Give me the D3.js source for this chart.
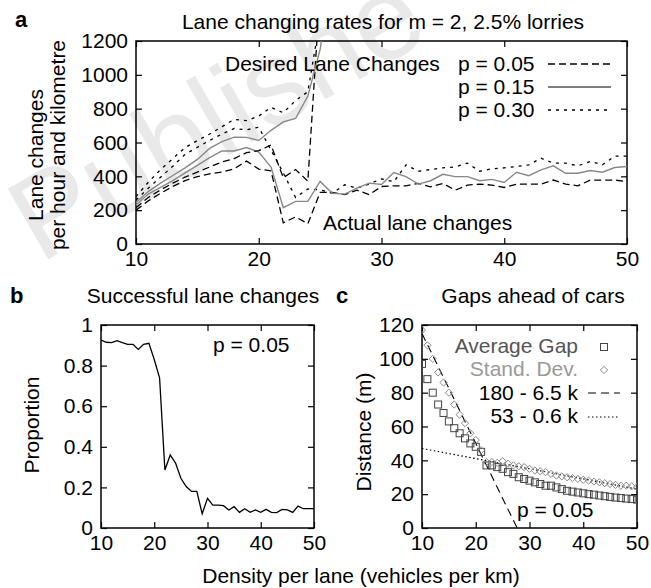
<!DOCTYPE html>
<html>
<head>
<meta charset="utf-8">
<script src="https://cdn.jsdelivr.net/npm/d3@7/dist/d3.min.js"></script>
<style>
  body { margin: 0; background: #fff; }
  svg { display: block; font-family: "Liberation Sans", Arial, Helvetica, sans-serif; }
  .tick text { font-size: 21px; fill: #000; }
</style>
</head>
<body>
<script>
// density per lane (vehicles per km), shared x for every panel
const density = [10, 11, 12, 13, 14, 15, 16, 17, 18, 19, 20, 21, 22, 23, 24, 25, 26, 27, 28, 29,
  30, 31, 32, 33, 34, 35, 36, 37, 38, 39, 40, 41, 42, 43, 44, 45, 46, 47, 48, 49, 50];

// panel a: desired lane changes (stop once they leave the top of the plot)
const desired005 = [215, 275, 320, 360, 395, 425, 455, 485, 505, 540, 552, 585, 392, 440, 372, 1500];
const desired015 = [245, 310, 360, 405, 450, 500, 565, 605, 632, 630, 612, 672, 722, 742, 875, 1150, 1600];
const desired030 = [280, 365, 440, 505, 570, 612, 650, 693, 737, 729, 756, 808, 776, 848, 900, 1330];

// panel a: actual lane changes
const actual005 = [200, 255, 300, 340, 375, 398, 415, 425, 445, 490, 443, 433, 125, 160, 120, 305, 305, 292, 318, 292,
  340, 344, 344, 358, 338, 358, 318, 348, 354, 348, 334, 354, 354, 354, 378, 354, 344, 378, 378, 378, 368];
const actual015 = [230, 295, 335, 375, 420, 465, 510, 550, 550, 570, 543, 455, 215, 252, 252, 370, 300, 295, 330, 360,
  352, 422, 398, 354, 374, 412, 398, 398, 374, 382, 364, 424, 404, 438, 462, 418, 418, 434, 424, 452, 458];
const actual030 = [260, 330, 395, 460, 530, 572, 612, 650, 683, 675, 690, 555, 420, 275, 325, 320, 300, 350, 330, 355,
  385, 368, 468, 430, 440, 450, 455, 478, 430, 445, 450, 458, 468, 507, 478, 478, 462, 488, 468, 520, 520];

// panel b: proportion of successful lane changes, p = 0.05
const successRate = [0.926, 0.915, 0.913, 0.923, 0.913, 0.905, 0.905, 0.88, 0.905, 0.91, 0.83, 0.74, 0.286, 0.36, 0.32,
  0.245, 0.204, 0.18, 0.18, 0.07, 0.146, 0.113, 0.113, 0.11, 0.089, 0.105, 0.077, 0.095, 0.077, 0.089, 0.077, 0.092,
  0.077, 0.076, 0.092, 0.089, 0.077, 0.108, 0.095, 0.095, 0.095];

// panel c: gaps ahead of cars (m)
const avgGap = [97, 88, 80, 73, 68, 63, 59, 56, 53, 50, 48, 45, 37, 37, 36, 35, 33, 32, 30, 29,
  28, 27, 26, 25, 25, 24, 23, 22, 21.5, 21, 20.5, 20, 19.7, 19.2, 18.8, 18.4, 18, 17.7, 17.4, 17.1, 16.8];
const stdDev = [117, 108, 100, 92, 86, 80, 73, 67, 62, 56, 52, 46, 39, 39, 38.5, 39.5, 38, 37, 36.5, 36,
  35, 34, 33.5, 33, 32, 31, 30.5, 30, 29.5, 29, 28.5, 28, 27.5, 27, 26.5, 26, 25.5, 25, 25, 24.6, 24.2];
// fitted lines, end points
const steepFitK = [10, 27.7], steepFitD = [115, 0];   // 180 - 6.5 k
const flatFitK = [10, 50], flatFitD = [47, 23];       // 53 - 0.6 k

const xTicks = [10, 20, 30, 40, 50];
const ticksA = [0, 200, 400, 600, 800, 1000, 1200];
const ticksB = [0, 0.2, 0.4, 0.6, 0.8, 1];
const ticksC = [0, 20, 40, 60, 80, 100, 120];

const W = 651, H = 588;
const svg = d3.select('body').append('svg').attr('width', W).attr('height', H);

// faint watermark behind everything
svg.append('text')
  .attr('transform', 'translate(40,264) rotate(-30)')
  .attr('font-size', 118)
  .attr('fill', '#e9e9e9')
  .text('Publishe');

// gnuplot-like frame: box, inward ticks on all four sides
function panel(box, yDomain, yTicks) {
  const x = d3.scaleLinear().domain([10, 50]).range([box.left, box.right]);
  const y = d3.scaleLinear().domain(yDomain).range([box.bottom, box.top]);
  const g = svg.append('g');
  const tick = 6;

  g.append('g').attr('transform', `translate(0,${box.bottom})`)
    .call(d3.axisBottom(x).tickValues(xTicks).tickSizeInner(-tick).tickSizeOuter(0).tickPadding(7));
  g.append('g').attr('transform', `translate(0,${box.top})`)
    .call(d3.axisTop(x).tickValues(xTicks).tickSizeInner(-tick).tickSizeOuter(0).tickFormat(''));
  g.append('g').attr('transform', `translate(${box.left},0)`)
    .call(d3.axisLeft(y).tickValues(yTicks).tickSizeInner(-tick).tickSizeOuter(0).tickPadding(8).tickFormat(d => String(d)));
  g.append('g').attr('transform', `translate(${box.right},0)`)
    .call(d3.axisRight(y).tickValues(yTicks).tickSizeInner(-tick).tickSizeOuter(0).tickFormat(''));

  g.selectAll('.domain').remove();
  g.selectAll('.tick line').attr('stroke', '#000').attr('stroke-width', 1.2);
  g.selectAll('.tick text').attr('font-family', null);
  g.append('rect')
    .attr('x', box.left).attr('y', box.top)
    .attr('width', box.right - box.left).attr('height', box.bottom - box.top)
    .attr('fill', 'none').attr('stroke', '#000').attr('stroke-width', 1.5);

  const clipId = 'clip' + box.left;
  svg.append('clipPath').attr('id', clipId).append('rect')
    .attr('x', box.left).attr('y', box.top)
    .attr('width', box.right - box.left).attr('height', box.bottom - box.top);
  const plot = svg.append('g').attr('clip-path', `url(#${clipId})`);
  return { x, y, g, plot };
}

function label(x, y, str, opts = {}) {
  const t = svg.append('text')
    .attr('x', x).attr('y', y)
    .attr('font-size', opts.size || 21)
    .attr('text-anchor', opts.anchor || 'start')
    .attr('fill', opts.fill || '#000')
    .text(str);
  if (opts.bold) t.attr('font-weight', 'bold');
  if (opts.rotate) t.attr('transform', `rotate(-90,${x},${y})`);
  return t;
}

const styles = {
  p005: { stroke: '#000', dash: '7,4', width: 1.3 },
  p015: { stroke: '#888', dash: null, width: 1.4 },
  p030: { stroke: '#000', dash: '3,5', width: 1.3 }
};

function drawLine(p, values, st) {
  const line = d3.line().x((d, i) => p.x(density[i])).y(d => p.y(d));
  p.plot.append('path')
    .datum(values)
    .attr('d', line)
    .attr('fill', 'none')
    .attr('stroke', st.stroke)
    .attr('stroke-width', st.width)
    .attr('stroke-dasharray', st.dash);
}

// ---------- panel a ----------
const pa = panel({ left: 136, right: 627, top: 41, bottom: 244 }, [0, 1200], ticksA);
drawLine(pa, actual005, styles.p005);
drawLine(pa, actual030, styles.p030);
drawLine(pa, actual015, styles.p015);
drawLine(pa, desired005, styles.p005);
drawLine(pa, desired030, styles.p030);
drawLine(pa, desired015, styles.p015);

label(15, 27, 'a', { bold: true, size: 22 });
label(383, 29, 'Lane changing rates for m = 2, 2.5% lorries', { anchor: 'middle' });
label(43, 155, 'Lane changes', { anchor: 'middle', rotate: true });
label(65, 145, 'per hour and kilometre', { anchor: 'middle', rotate: true });
label(225, 71, 'Desired Lane Changes');
label(323, 230, 'Actual lane changes');

const legA = [['p = 0.05', styles.p005], ['p = 0.15', { stroke: '#555', dash: null, width: 1.5 }], ['p = 0.30', styles.p030]];
legA.forEach(([txt, st], i) => {
  const by = 71 + i * 23;
  label(458, by, txt);
  svg.append('line')
    .attr('x1', 548).attr('x2', 611).attr('y1', by - 7).attr('y2', by - 7)
    .attr('stroke', st.stroke).attr('stroke-width', st.width)
    .attr('stroke-dasharray', st.dash);
});

// ---------- panel b ----------
const pb = panel({ left: 101, right: 314, top: 325, bottom: 528 }, [0, 1], ticksB);
drawLine(pb, successRate, { stroke: '#000', dash: null, width: 1.3 });
label(10, 303, 'b', { bold: true, size: 22 });
label(203, 303, 'Successful lane changes', { anchor: 'middle' });
label(39, 425, 'Proportion', { anchor: 'middle', rotate: true });
label(213, 352, 'p = 0.05');

// ---------- panel c ----------
const pc = panel({ left: 422, right: 637, top: 325, bottom: 528 }, [0, 120], ticksC);

function fitLine(ks, ds, dash, width) {
  pc.plot.append('path')
    .datum(ks.map((k, i) => [k, ds[i]]))
    .attr('d', d3.line().x(d => pc.x(d[0])).y(d => pc.y(d[1])))
    .attr('fill', 'none').attr('stroke', '#000')
    .attr('stroke-width', width).attr('stroke-dasharray', dash);
}
fitLine(steepFitK, steepFitD, '8,5', 1.1);
fitLine(flatFitK, flatFitD, '1.5,2.5', 1.2);

const sq = 7, dm = 3.6;
function square(sel, cx, cy) {
  sel.append('rect').attr('x', cx - sq / 2).attr('y', cy - sq / 2)
    .attr('width', sq).attr('height', sq)
    .attr('fill', 'none').attr('stroke', '#444').attr('stroke-width', 1);
}
function diamond(sel, cx, cy) {
  sel.append('path')
    .attr('d', `M${cx},${cy - dm}L${cx + dm},${cy}L${cx},${cy + dm}L${cx - dm},${cy}Z`)
    .attr('fill', 'none').attr('stroke', '#888').attr('stroke-width', 1);
}
avgGap.forEach((v, i) => square(pc.plot, pc.x(density[i]), pc.y(v)));
stdDev.forEach((v, i) => diamond(pc.plot, pc.x(density[i]), pc.y(v)));

label(336, 303, 'c', { bold: true, size: 22 });
label(533, 303, 'Gaps ahead of cars', { anchor: 'middle' });
label(371, 432, 'Distance (m)', { anchor: 'middle', rotate: true });
label(517, 517, 'p = 0.05');

label(578, 353, 'Average Gap', { anchor: 'end', fill: '#555' });
square(svg, 604, 347);
label(578, 376, 'Stand. Dev.', { anchor: 'end', fill: '#999' });
diamond(svg, 604, 370);
label(578, 400, '180 - 6.5 k', { anchor: 'end' });
svg.append('line').attr('x1', 588).attr('x2', 620).attr('y1', 393).attr('y2', 393)
  .attr('stroke', '#000').attr('stroke-width', 1.1).attr('stroke-dasharray', '8,5');
label(578, 423, '53 - 0.6 k', { anchor: 'end' });
svg.append('line').attr('x1', 588).attr('x2', 620).attr('y1', 417).attr('y2', 417)
  .attr('stroke', '#000').attr('stroke-width', 1.2).attr('stroke-dasharray', '1.5,2.5');

// shared x label
label(361, 583, 'Density per lane (vehicles per km)', { anchor: 'middle' });
</script>
</body>
</html>
